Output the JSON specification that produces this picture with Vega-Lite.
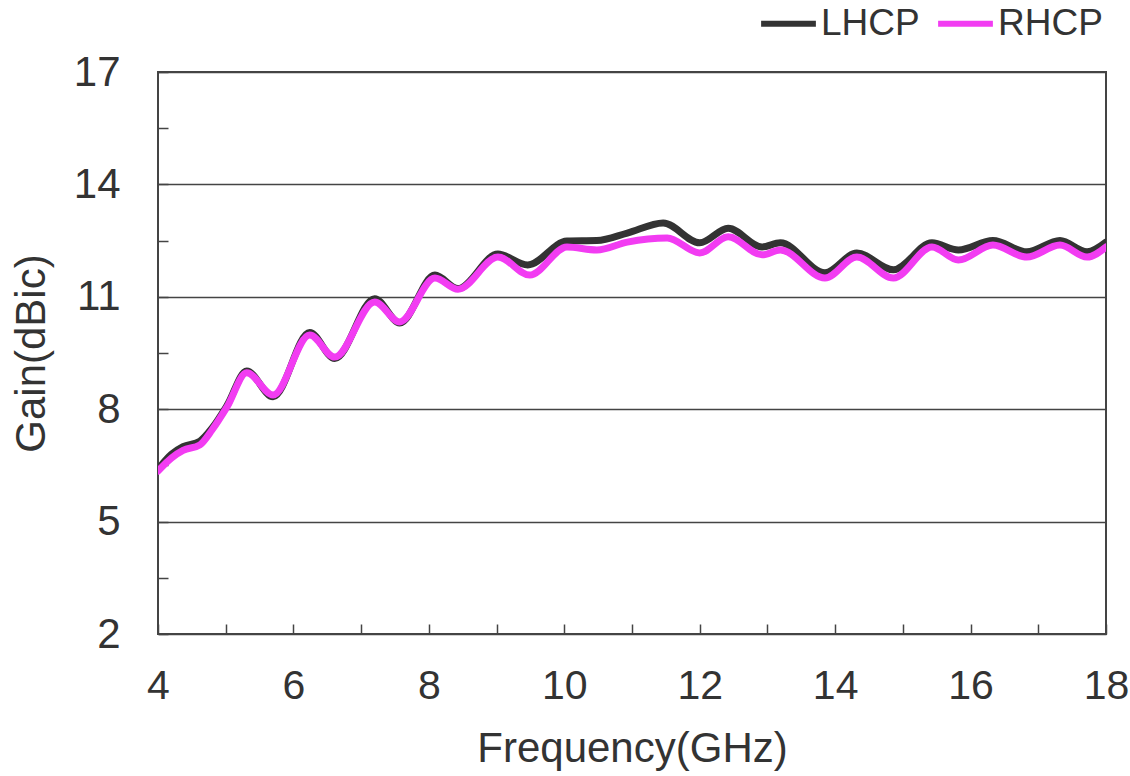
{
  "$schema": "https://vega.github.io/schema/vega-lite/v6.json",
  "width": 948,
  "height": 562,
  "autosize": "none",
  "padding": {"left": 158, "top": 72, "right": 24, "bottom": 142},
  "background": "white",
  "config": {
    "font": "Liberation Sans",
    "view": {"stroke": "#444", "strokeWidth": 2},
    "axis": {"labelFont": "Liberation Sans", "titleFont": "Liberation Sans", "labelColor": "#333", "titleColor": "#333", "titleFontWeight": "normal", "domain": false, "tickColor": "#444", "tickWidth": 1.5}
  },
  "data": {
    "values": [
      {"f": 4.0, "gain": 6.4, "pol": "LHCP"},
      {"f": 4.2, "gain": 6.8, "pol": "LHCP"},
      {"f": 4.37, "gain": 7.0, "pol": "LHCP"},
      {"f": 4.62, "gain": 7.15, "pol": "LHCP"},
      {"f": 4.8, "gain": 7.5, "pol": "LHCP"},
      {"f": 5.02, "gain": 8.1, "pol": "LHCP"},
      {"f": 5.31, "gain": 9.02, "pol": "LHCP"},
      {"f": 5.7, "gain": 8.33, "pol": "LHCP"},
      {"f": 6.24, "gain": 10.05, "pol": "LHCP"},
      {"f": 6.61, "gain": 9.35, "pol": "LHCP"},
      {"f": 7.2, "gain": 10.95, "pol": "LHCP"},
      {"f": 7.57, "gain": 10.3, "pol": "LHCP"},
      {"f": 8.09, "gain": 11.58, "pol": "LHCP"},
      {"f": 8.43, "gain": 11.22, "pol": "LHCP"},
      {"f": 9.02, "gain": 12.14, "pol": "LHCP"},
      {"f": 9.46, "gain": 11.85, "pol": "LHCP"},
      {"f": 10.04, "gain": 12.49, "pol": "LHCP"},
      {"f": 10.48, "gain": 12.5, "pol": "LHCP"},
      {"f": 10.93, "gain": 12.7, "pol": "LHCP"},
      {"f": 11.46, "gain": 12.97, "pol": "LHCP"},
      {"f": 12.0, "gain": 12.44, "pol": "LHCP"},
      {"f": 12.42, "gain": 12.83, "pol": "LHCP"},
      {"f": 12.92, "gain": 12.33, "pol": "LHCP"},
      {"f": 13.19, "gain": 12.44, "pol": "LHCP"},
      {"f": 13.85, "gain": 11.64, "pol": "LHCP"},
      {"f": 14.32, "gain": 12.17, "pol": "LHCP"},
      {"f": 14.86, "gain": 11.72, "pol": "LHCP"},
      {"f": 15.43, "gain": 12.44, "pol": "LHCP"},
      {"f": 15.82, "gain": 12.25, "pol": "LHCP"},
      {"f": 16.33, "gain": 12.5, "pol": "LHCP"},
      {"f": 16.83, "gain": 12.2, "pol": "LHCP"},
      {"f": 17.32, "gain": 12.5, "pol": "LHCP"},
      {"f": 17.72, "gain": 12.2, "pol": "LHCP"},
      {"f": 18.0, "gain": 12.46, "pol": "LHCP"},
      {"f": 4.0, "gain": 6.35, "pol": "RHCP"},
      {"f": 4.2, "gain": 6.7, "pol": "RHCP"},
      {"f": 4.37, "gain": 6.9, "pol": "RHCP"},
      {"f": 4.62, "gain": 7.05, "pol": "RHCP"},
      {"f": 4.8, "gain": 7.45, "pol": "RHCP"},
      {"f": 5.02, "gain": 8.06, "pol": "RHCP"},
      {"f": 5.31, "gain": 8.97, "pol": "RHCP"},
      {"f": 5.7, "gain": 8.38, "pol": "RHCP"},
      {"f": 6.24, "gain": 9.98, "pol": "RHCP"},
      {"f": 6.61, "gain": 9.39, "pol": "RHCP"},
      {"f": 7.2, "gain": 10.86, "pol": "RHCP"},
      {"f": 7.57, "gain": 10.33, "pol": "RHCP"},
      {"f": 8.09, "gain": 11.5, "pol": "RHCP"},
      {"f": 8.43, "gain": 11.2, "pol": "RHCP"},
      {"f": 9.02, "gain": 12.06, "pol": "RHCP"},
      {"f": 9.49, "gain": 11.58, "pol": "RHCP"},
      {"f": 10.04, "gain": 12.33, "pol": "RHCP"},
      {"f": 10.48, "gain": 12.25, "pol": "RHCP"},
      {"f": 10.93, "gain": 12.46, "pol": "RHCP"},
      {"f": 11.52, "gain": 12.57, "pol": "RHCP"},
      {"f": 12.0, "gain": 12.17, "pol": "RHCP"},
      {"f": 12.42, "gain": 12.6, "pol": "RHCP"},
      {"f": 12.92, "gain": 12.12, "pol": "RHCP"},
      {"f": 13.19, "gain": 12.25, "pol": "RHCP"},
      {"f": 13.85, "gain": 11.5, "pol": "RHCP"},
      {"f": 14.32, "gain": 12.06, "pol": "RHCP"},
      {"f": 14.86, "gain": 11.5, "pol": "RHCP"},
      {"f": 15.43, "gain": 12.33, "pol": "RHCP"},
      {"f": 15.82, "gain": 11.98, "pol": "RHCP"},
      {"f": 16.33, "gain": 12.38, "pol": "RHCP"},
      {"f": 16.83, "gain": 12.06, "pol": "RHCP"},
      {"f": 17.32, "gain": 12.38, "pol": "RHCP"},
      {"f": 17.72, "gain": 12.06, "pol": "RHCP"},
      {"f": 18.0, "gain": 12.33, "pol": "RHCP"}
    ]
  },
  "mark": {"type": "line", "interpolate": "monotone", "strokeWidth": 7, "strokeCap": "round", "clip": true},
  "encoding": {
    "x": {
      "field": "f", "type": "quantitative",
      "scale": {"domain": [4, 18], "nice": false, "zero": false},
      "axis": {
        "title": "Frequency(GHz)",
        "values": [4,5,6,7,8,9,10,11,12,13,14,15,16,17,18],
        "labelExpr": "datum.value % 2 == 0 ? datum.label : ''",
        "grid": false,
        "tickSize": -10,
        "labelFontSize": 41,
        "labelPadding": 42,
        "labelFlush": false,
        "titleFontSize": 42,
        "titlePadding": 22
      }
    },
    "y": {
      "field": "gain", "type": "quantitative",
      "scale": {"domain": [2, 17], "nice": false, "zero": false},
      "axis": {
        "title": "Gain(dBic)",
        "values": [2,3.5,5,6.5,8,9.5,11,12.5,14,15.5,17],
        "labelExpr": "(datum.value - 2) % 3 == 0 ? datum.label : ''",
        "grid": true,
        "gridColor": "#444",
        "gridWidth": 1.5,
        "gridOpacity": {"condition": {"test": "(datum.value - 2) % 3 == 0", "value": 1}, "value": 0},
        "tickSize": -10,
        "labelFontSize": 42,
        "labelPadding": 48,
        "labelFlush": false,
        "titleFontSize": 42,
        "titlePadding": 20
      }
    },
    "color": {
      "field": "pol", "type": "nominal",
      "scale": {"domain": ["LHCP", "RHCP"], "range": ["#333333", "#f23cf2"]},
      "legend": {
        "title": null,
        "orient": "none",
        "direction": "horizontal",
        "legendX": 600,
        "legendY": -79,
        "symbolType": "stroke",
        "symbolSize": 3000,
        "symbolStrokeWidth": 6,
        "labelFontSize": 37,
        "labelColor": "#333",
        "labelFont": "Liberation Sans",
        "labelOffset": 2,
        "columnPadding": 6
      }
    }
  }
}
